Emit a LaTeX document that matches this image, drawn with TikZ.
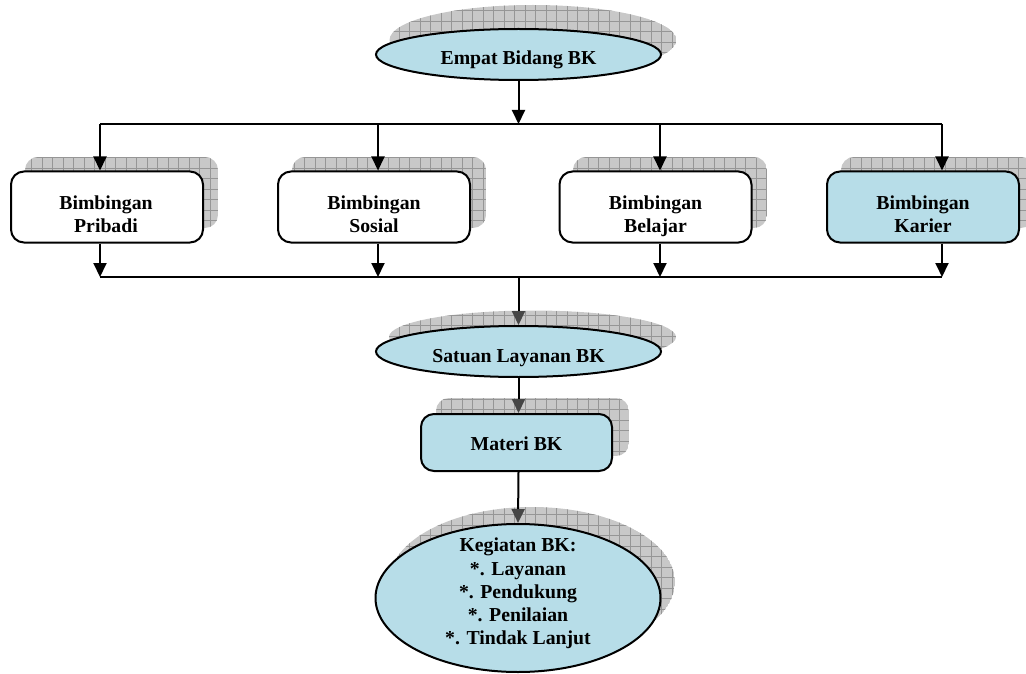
\documentclass[tikz,border=0pt]{standalone}
\usepackage{fontspec}
\setmainfont{Liberation Serif}
\usetikzlibrary{arrows.meta,shapes.geometric}
\definecolor{nodeblue}{RGB}{183,221,232}
\definecolor{shfill}{RGB}{200,200,200}
\definecolor{shgrid}{RGB}{150,150,150}
\definecolor{tipgray}{RGB}{70,70,70}
\tikzset{
  boxnode/.style={draw=black, line width=2pt, rounded corners=13pt, minimum width=192pt, minimum height=71pt, inner sep=0pt},
  ovalnode/.style={draw=black, line width=2pt, ellipse, inner sep=0pt, fill=nodeblue},
  lbl/.style={font=\fontsize{19.75}{22.4}\selectfont\bfseries, align=center, inner sep=0pt},
  lblk/.style={font=\fontsize{19.75}{23.1}\selectfont\bfseries, align=center, inner sep=0pt},
  conn/.style={line width=2pt},
  arr/.style={line width=2pt, -{Triangle[width=13pt,length=14pt]}},
  arrg/.style={line width=2pt, -{Triangle[width=13pt,length=14pt,color=tipgray]}},
  shgridline/.style={shgrid, line width=0.8pt},
}
\newcommand\myshadowbox[4]{%
  \begin{scope}
    \clip[rounded corners=13pt] (#1,#2) rectangle (#3,#4);
    \fill[shfill] (#1,#2) rectangle (#3,#4);
    \draw[shgridline, step=10.5pt] (#1,#2) grid (#3,#4);
  \end{scope}}
\newcommand\myshadowoval[4]{%
  \begin{scope}
    \clip (#1,#2) ellipse [x radius=#3pt, y radius=#4pt];
    \fill[shfill] (#1,#2) ellipse [x radius=#3pt, y radius=#4pt];
    \draw[shgridline, step=10.5pt] ($(#1,#2)+(-#3pt,-#4pt)$) grid ($(#1,#2)+(#3pt,#4pt)$);
  \end{scope}}
\usetikzlibrary{calc}
\begin{document}
\begin{tikzpicture}[x=1pt,y=-1pt]
\useasboundingbox (0,0) rectangle (1026,674);
% shadows
\myshadowoval{533}{40}{143.5}{35}
\myshadowbox{25}{157}{218}{228}
\myshadowbox{292}{157}{486}{228}
\myshadowbox{573}{157}{767}{228}
\myshadowbox{841}{157}{1034}{228}
\myshadowoval{532.5}{337}{143.5}{26.5}
\myshadowbox{436}{398}{629}{456}
\myshadowoval{532}{582}{143}{75}
% nodes
\node[ovalnode, minimum width=285pt, minimum height=51pt] (emp) at (518.5,54.5) {};
\node[boxnode, fill=white] (pri) at (107,207) {};
\node[boxnode, fill=white] (sos) at (374,207) {};
\node[boxnode, fill=white] (bel) at (655.5,207) {};
\node[boxnode, fill=nodeblue] (kar) at (923,207) {};
\node[ovalnode, minimum width=285pt, minimum height=51pt] (sat) at (518.5,351.5) {};
\node[boxnode, fill=nodeblue, minimum width=191pt, minimum height=57pt] (mat) at (516.5,442.5) {};
\node[ovalnode, minimum width=285pt, minimum height=148pt] (keg) at (518,598) {};
% labels
\node[lbl, anchor=base] (empT) at (518.5,65) {Empat Bidang BK};
\node[lbl, anchor=north] (priT) at (106,196) {Bimbingan\\Pribadi};
\node[lbl, anchor=north] (sosT) at (374,196) {Bimbingan\\Sosial};
\node[lbl, anchor=north] (belT) at (655.5,196) {Bimbingan\\Belajar};
\node[lbl, anchor=north] (karT) at (923,196) {Bimbingan\\Karier};
\node[lbl, anchor=base] (satT) at (518.5,362.7) {Satuan Layanan BK};
\node[lbl, anchor=base] (matT) at (516.5,450) {Materi BK};
\node[lblk, anchor=north] (kegT) at (518,538) {Kegiatan BK:\\*. Layanan\\*. Pendukung\\*. Penilaian\\*. Tindak Lanjut};
% connectors
\coordinate (tL) at (100,124);
\coordinate (tR) at (942,124);
\coordinate (t2) at (378,124);
\coordinate (t3) at (660,124);
\coordinate (bL) at (100,277);
\coordinate (bR) at (942,277);
\coordinate (b2) at (378,277);
\coordinate (b3) at (660,277);
\coordinate (bM) at (518.5,277);
\draw[conn] (tL) -- (tR);
\draw[arr] (emp.south) -- (emp.south |- tL);
\draw[arr] (tL) -- (tL |- pri.north);
\draw[arr] (t2) -- (t2 |- sos.north);
\draw[arr] (t3) -- (t3 |- bel.north);
\draw[arr] (tR) -- (tR |- kar.north);
\draw[conn] (bL) -- (bR);
\draw[arr] (bL |- pri.south) -- (bL);
\draw[arr] (b2 |- sos.south) -- (b2);
\draw[arr] (b3 |- bel.south) -- (b3);
\draw[arr] (bR |- kar.south) -- (bR);
\draw[arrg] (bM) -- (sat.north);
\draw[arrg] (sat.south) -- (sat.south |- mat.north);
\draw[arrg] (sat.south |- mat.south) -- (keg.north);
\end{tikzpicture}
\end{document}
